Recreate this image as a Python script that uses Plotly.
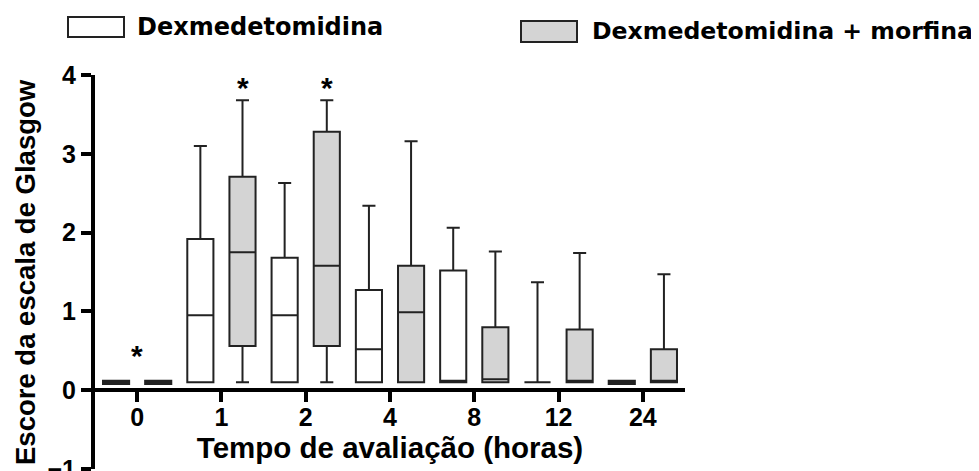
import plotly.graph_objects as go

# ---------------- data ----------------
categories = ["0", "1", "2", "4", "8", "12", "24"]

dex_q1 = [0.08, 0.10, 0.10, 0.10, 0.10, 0.10, 0.08]
dex_median = [0.10, 0.95, 0.95, 0.52, 0.12, 0.10, 0.10]
dex_q3 = [0.12, 1.92, 1.68, 1.27, 1.52, 0.10, 0.12]
dex_low = [0.08, 0.10, 0.10, 0.10, 0.10, 0.10, 0.08]
dex_up = [0.12, 3.10, 2.63, 2.34, 2.06, 1.37, 0.12]

mor_q1 = [0.08, 0.56, 0.56, 0.10, 0.10, 0.10, 0.10]
mor_median = [0.10, 1.75, 1.58, 0.99, 0.14, 0.12, 0.12]
mor_q3 = [0.12, 2.71, 3.28, 1.58, 0.80, 0.77, 0.52]
mor_low = [0.08, 0.10, 0.10, 0.10, 0.10, 0.10, 0.10]
mor_up = [0.12, 3.68, 3.68, 3.16, 1.76, 1.74, 1.47]

series_names = ["Dexmedetomidina", "Dexmedetomidina + morfina"]
# significance marks: (category index, which series: None = whole group / 1 = morfina)
sig_marks = [(0, None), (1, 1), (2, 1)]

x_title = "Tempo de avaliação (horas)"
y_title = "Escore da escala de Glasgow"
y_ticks = [-1, 0, 1, 2, 3, 4]

# ---------------- figure ----------------
OFF = 8  # page body margin
W, H = 979, 471
PLOT_L, PLOT_R, PLOT_T, PLOT_B = 95, 685, 75, 469  # in window pixels
ML = PLOT_L - OFF
MT = PLOT_T - OFF
MR = W - (PLOT_R - OFF)
MB = H - (PLOT_B - OFF)
YMIN, YMAX = -1, 4

FAM = "Liberation Sans, Arial, sans-serif"
AX_FONT = dict(family=FAM, size=25, color="black", weight="bold")
TITLE_FONT = dict(family=FAM, size=29.5, color="black", weight="bold")
YTITLE_FONT = dict(family=FAM, size=27.5, color="black", weight="bold")
LEG_FAM = "DejaVu Sans, Verdana, sans-serif"

fig = go.Figure()
fig.add_trace(go.Box(
    name=series_names[0], x=categories,
    q1=dex_q1, median=dex_median, q3=dex_q3,
    lowerfence=dex_low, upperfence=dex_up,
    fillcolor="white", line=dict(color="#222222", width=2),
    whiskerwidth=0.5, boxpoints=False, showlegend=False,
))
fig.add_trace(go.Box(
    name=series_names[1], x=categories,
    q1=mor_q1, median=mor_median, q3=mor_q3,
    lowerfence=mor_low, upperfence=mor_up,
    fillcolor="#d4d4d4", line=dict(color="#222222", width=2),
    whiskerwidth=0.5, boxpoints=False, showlegend=False,
))

# significance asterisks
offset = 0.25
for gi, si in sig_marks:
    if si is None:
        xpos = gi
        ytop = max(dex_up[gi], mor_up[gi]) + 0.09
    else:
        xpos = gi + (offset if si == 1 else -offset)
        ytop = (mor_up if si == 1 else dex_up)[gi] - 0.07
    fig.add_annotation(x=xpos, y=ytop, text="*", showarrow=False,
                       font=dict(family=FAM, size=30, color="black", weight="bold"),
                       xanchor="center", yanchor="bottom")

# window pixel -> paper
def px(xp):
    return (xp - PLOT_L) / (PLOT_R - PLOT_L)

def py(yp):
    return (PLOT_B - yp) / (PLOT_B - PLOT_T)

# y-axis title
fig.add_annotation(xref="paper", yref="paper", x=px(25), y=py(272),
                   text=y_title, textangle=-90, showarrow=False,
                   xanchor="center", yanchor="middle", font=YTITLE_FONT)

# manual legend
legend_items = [
    (series_names[0], "white", (68, 124, 17, 37), 135, 24),
    (series_names[1], "#d4d4d4", (521, 577, 21, 42), 590, 23.6),
]
for name, fill, (x0, x1, y0, y1), tx, fs in legend_items:
    fig.add_shape(type="rect", xref="paper", yref="paper",
                  x0=px(x0), x1=px(x1), y0=py(y1), y1=py(y0),
                  fillcolor=fill, line=dict(color="#222222", width=2))
    fig.add_annotation(xref="paper", yref="paper", x=px(tx), y=py((y0 + y1) / 2),
                       text=name, showarrow=False, xanchor="left", yanchor="middle",
                       font=dict(family=LEG_FAM, size=fs, color="black", weight="bold"))

fig.update_layout(
    width=W, height=H,
    margin=dict(l=ML, r=MR, t=MT, b=MB, pad=0),
    paper_bgcolor="white", plot_bgcolor="white",
    boxmode="group", boxgap=0.0, boxgroupgap=0.38,
    showlegend=False,
    xaxis=dict(
        type="category", range=[-0.5, 6.5],
        anchor="free", position=(0 - YMIN) / (YMAX - YMIN),
        showline=True, linewidth=4, linecolor="black",
        ticks="outside", ticklen=10, tickwidth=4, tickcolor="black",
        tickfont=AX_FONT, showgrid=False, zeroline=False,
        ticklabelstandoff=-6,
        title=dict(text=x_title, font=TITLE_FONT, standoff=6),
        automargin=False,
    ),
    yaxis=dict(
        range=[YMIN, YMAX], tickvals=y_ticks,
        showline=True, linewidth=4, linecolor="black",
        ticks="outside", ticklen=10, tickwidth=4, tickcolor="black",
        tickfont=AX_FONT, showgrid=False, zeroline=False,
        ticklabeloverflow="allow",
        automargin=False,
    ),
)

fig.write_html("out.html")
